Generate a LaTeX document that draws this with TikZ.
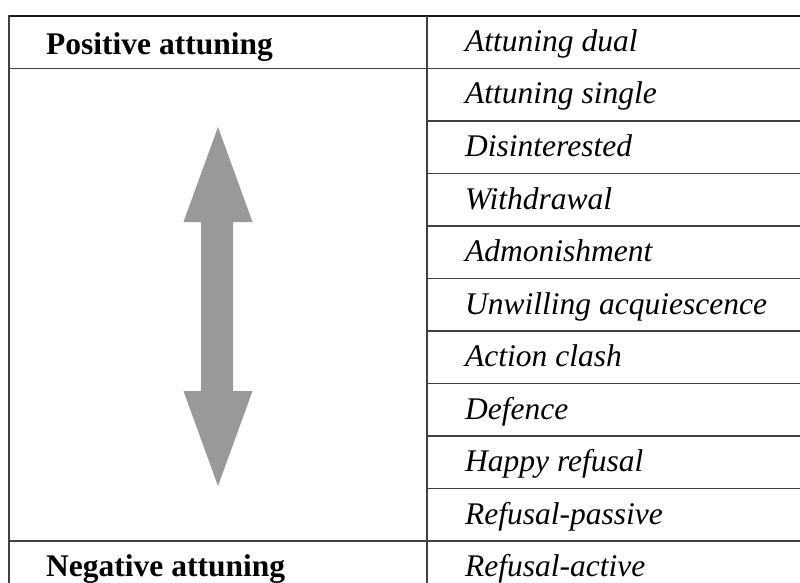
\documentclass[tikz,border=0pt]{standalone}
\usepackage{fontspec}
\setmainfont{Liberation Serif}
\begin{document}
\begin{tikzpicture}[x=1pt,y=-1pt,
  rule/.style={draw=black!75, line width=1.6pt},
  headcell/.style={anchor=base west, inner sep=0pt, font=\fontsize{31.5}{36}\selectfont\bfseries},
  itemcell/.style={anchor=base west, inner sep=0pt, font=\fontsize{31.5}{36}\selectfont\itshape},
  scalearrow/.style={fill=black!40, draw=none}]
\useasboundingbox (0,0) rectangle (800,583);
\clip (0,0) rectangle (800,583);
\fill[white] (0,0) rectangle (800,583);

% outer frame and column divider
\draw[rule, draw=black!90] (9,16) -- (801,16);
\draw[rule] (9,15.2) -- (9,590);
\draw[rule] (427,16) -- (427,590);

% row rules of the right column
\foreach \i in {1,...,10}
  \draw[rule] (427,16+52.5*\i) -- (801,16+52.5*\i);
% left column: under the top label and above the bottom label
\draw[rule] (9,68.5) -- (427,68.5);
\draw[rule] (9,541) -- (427,541);

% left column labels
\node[headcell] (pos) at (46,55) {Positive attuning};
\node[headcell] (neg) at (46,576) {Negative attuning};

% right column entries
\foreach \t [count=\i from 0] in {Attuning dual, Attuning single, Disinterested, Withdrawal,
  Admonishment, Unwilling acquiescence, Action clash, Defence, Happy refusal,
  Refusal-passive, Refusal-active}
  \node[itemcell] (item\i) at (465,16+52.5*\i+35.5) {\t};

% double-headed scale arrow
\fill[scalearrow] (218,127) -- (252.5,222) -- (233,222) -- (233,391) -- (252.5,391)
  -- (218,486) -- (183.5,391) -- (201,391) -- (201,222) -- (183.5,222) -- cycle;
\end{tikzpicture}
\end{document}
